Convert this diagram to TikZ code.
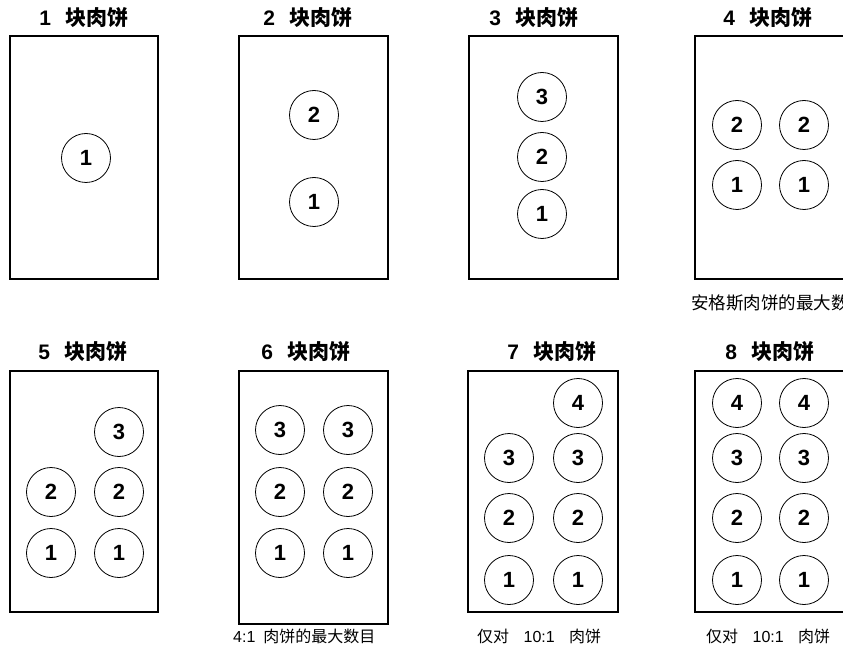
\documentclass[tikz,border=0pt]{standalone}
\usepackage{fontspec,tikz}
\setmainfont{Liberation Sans}
\newfontfamily\cjk{Noto Sans CJK SC}

\begin{document}
\begin{tikzpicture}[x=1pt,y=-1pt,
  tray/.style={line width=1.5pt},
  patty/.style={draw,circle,line width=0.8pt,minimum size=49pt,inner sep=0pt,font=\fontsize{22}{26}\selectfont\bfseries},
  title/.style={inner sep=0pt,font=\fontsize{21}{25}\selectfont\bfseries},
  note/.style={anchor=west,inner sep=0pt,font=\fontsize{16}{19}\selectfont}]
\path[use as bounding box] (0,0) rectangle (843,652);
% row 1
\node[title] (t1) at (84,18) {1\hspace{0.7em}{\cjk 块肉饼}};
\draw[tray] (10,36) rectangle (158,279);
\node[patty] (p1a) at (86,158) {1};
\node[title] (t2) at (308,18) {2\hspace{0.7em}{\cjk 块肉饼}};
\draw[tray] (239,36) rectangle (388,279);
\node[patty] (p2b) at (314,115) {2};
\node[patty] (p2a) at (314,202) {1};
\node[title] (t3) at (534,18) {3\hspace{0.7em}{\cjk 块肉饼}};
\draw[tray] (469,36) rectangle (618,279);
\node[patty] (p3c) at (542,97) {3};
\node[patty] (p3b) at (542,157) {2};
\node[patty] (p3a) at (542,214) {1};
\node[title] (t4) at (768,18) {4\hspace{0.7em}{\cjk 块肉饼}};
\draw[tray] (695,36) rectangle (844,279);
\node[patty] (p4b) at (737,125) {2};
\node[patty] (p4d) at (804,125) {2};
\node[patty] (p4a) at (737,185) {1};
\node[patty] (p4c) at (804,185) {1};
\node[note,font=\fontsize{17.5}{20}\selectfont] (n4) at (691,303) {\cjk 安格斯肉饼的最大数目};
% row 2
\node[title] (t5) at (83,352) {5\hspace{0.7em}{\cjk 块肉饼}};
\draw[tray] (10,371) rectangle (158,612);
\node[patty] (p5e) at (119,432) {3};
\node[patty] (p5b) at (51,492) {2};
\node[patty] (p5d) at (119,492) {2};
\node[patty] (p5a) at (51,553) {1};
\node[patty] (p5c) at (119,553) {1};
\node[title] (t6) at (306,352) {6\hspace{0.7em}{\cjk 块肉饼}};
\draw[tray] (239,371) rectangle (388,624);
\node[patty] (p6c) at (280,430) {3};
\node[patty] (p6f) at (348,430) {3};
\node[patty] (p6b) at (280,492) {2};
\node[patty] (p6e) at (348,492) {2};
\node[patty] (p6a) at (280,553) {1};
\node[patty] (p6d) at (348,553) {1};
\node[note] (n6) at (233,636) {4:1\hspace{0.5em}{\cjk 肉饼的最大数目}};
\node[title] (t7) at (552,352) {7\hspace{0.7em}{\cjk 块肉饼}};
\draw[tray] (468,371) rectangle (618,612);
\node[patty] (p7g) at (578,403) {4};
\node[patty] (p7c) at (509,458) {3};
\node[patty] (p7f) at (578,458) {3};
\node[patty] (p7b) at (509,518) {2};
\node[patty] (p7e) at (578,518) {2};
\node[patty] (p7a) at (509,580) {1};
\node[patty] (p7d) at (578,580) {1};
\node[note] (n7) at (477,636) {{\cjk 仅对}\hspace{0.9em}10:1\hspace{0.9em}{\cjk 肉饼}};
\node[title] (t8) at (770,352) {8\hspace{0.7em}{\cjk 块肉饼}};
\draw[tray] (695,371) rectangle (844,612);
\node[patty] (p8d) at (737,403) {4};
\node[patty] (p8h) at (804,403) {4};
\node[patty] (p8c) at (737,458) {3};
\node[patty] (p8g) at (804,458) {3};
\node[patty] (p8b) at (737,518) {2};
\node[patty] (p8f) at (804,518) {2};
\node[patty] (p8a) at (737,580) {1};
\node[patty] (p8e) at (804,580) {1};
\node[note] (n8) at (706,636) {{\cjk 仅对}\hspace{0.9em}10:1\hspace{0.9em}{\cjk 肉饼}};
\end{tikzpicture}
\end{document}
